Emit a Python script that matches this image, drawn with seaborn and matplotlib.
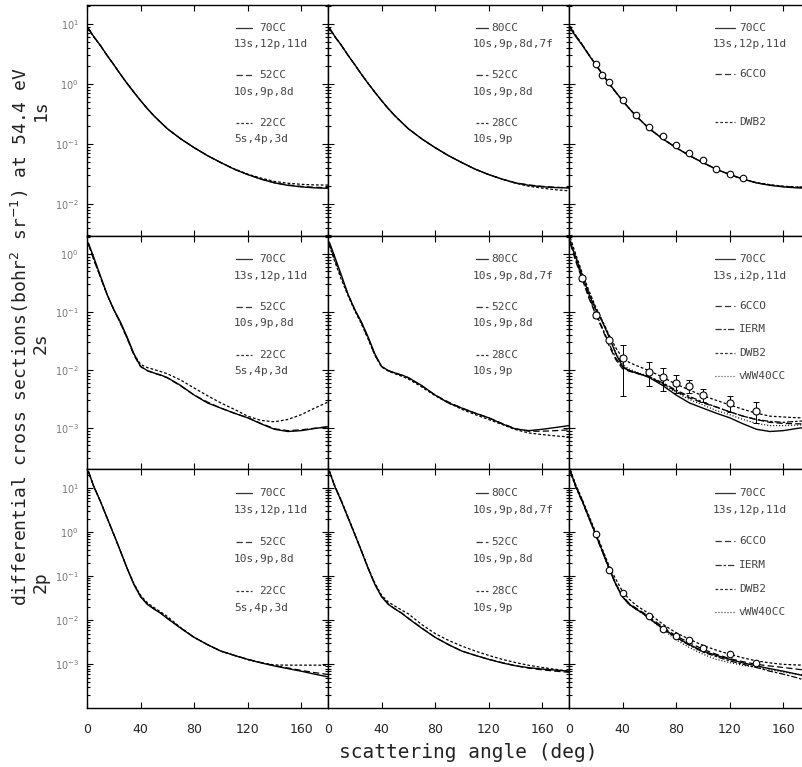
import numpy as np
import pandas as pd
import matplotlib
matplotlib.use("Agg")
import matplotlib.pyplot as plt
import seaborn as sns
from matplotlib.ticker import LogLocator, NullFormatter, FixedLocator
from matplotlib.lines import Line2D

# ---------------- data ----------------
ANG = [1, 5, 10, 15, 20, 25, 30, 35, 40, 45, 50, 55, 60, 70, 80, 90, 100,
       110, 120, 130, 140, 150, 160, 170, 180]

# 1s
S1_70CC = [8.5, 6.2, 4.4, 3.0, 2.1, 1.45, 1.02, 0.73, 0.53, 0.39, 0.295, 0.23, 0.18, 0.122,
           0.087, 0.064, 0.049, 0.038, 0.031, 0.026, 0.0225, 0.0205, 0.0193, 0.0186, 0.0183]
S1_52CC = [8.4, 6.15, 4.38, 3.0, 2.1, 1.45, 1.02, 0.73, 0.53, 0.39, 0.295, 0.23, 0.18, 0.122,
           0.087, 0.064, 0.049, 0.038, 0.031, 0.026, 0.0226, 0.0208, 0.0197, 0.0190, 0.0187]
S1_22CC = [8.3, 6.1, 4.35, 2.98, 2.1, 1.45, 1.02, 0.73, 0.53, 0.39, 0.295, 0.23, 0.18, 0.122,
           0.087, 0.064, 0.049, 0.0385, 0.0315, 0.027, 0.0238, 0.0222, 0.0213, 0.0208, 0.0207]
S1_80CC = [8.6, 6.25, 4.42, 3.0, 2.1, 1.45, 1.02, 0.73, 0.53, 0.39, 0.295, 0.23, 0.18, 0.122,
           0.087, 0.064, 0.049, 0.038, 0.031, 0.026, 0.0225, 0.0205, 0.0194, 0.0188, 0.0185]
S1_28CC = [8.7, 6.3, 4.45, 3.02, 2.1, 1.45, 1.02, 0.73, 0.53, 0.39, 0.295, 0.23, 0.18, 0.122,
           0.087, 0.064, 0.049, 0.038, 0.031, 0.026, 0.0222, 0.0198, 0.0184, 0.0173, 0.0166]
S1_6CCO = [8.8, 6.4, 4.5, 3.05, 2.12, 1.46, 1.03, 0.73, 0.53, 0.39, 0.295, 0.23, 0.18, 0.122,
           0.087, 0.064, 0.049, 0.038, 0.031, 0.026, 0.0226, 0.0207, 0.0196, 0.0191, 0.0190]
S1_DWB2 = [9.2, 6.5, 4.5, 3.05, 2.1, 1.44, 1.01, 0.72, 0.525, 0.39, 0.295, 0.23, 0.18, 0.122,
           0.087, 0.064, 0.049, 0.038, 0.031, 0.026, 0.0228, 0.0210, 0.0198, 0.0192, 0.0190]
EXP1_ANG = [20, 25, 30, 40, 50, 60, 70, 80, 90, 100, 110, 120, 130]
EXP1_VAL = [2.15, 1.41, 1.1, 0.54, 0.30, 0.195, 0.138, 0.096, 0.070, 0.054, 0.039, 0.032, 0.027]

# 2s
S2_70CC = [1.55, 0.88, 0.42, 0.2, 0.11, 0.067, 0.037, 0.019, 0.0115, 0.0098, 0.0089, 0.0082, 0.0074,
           0.0054, 0.0037, 0.0027, 0.0022, 0.0018, 0.0015, 0.00118, 0.00095, 0.00087, 0.00090,
           0.00098, 0.00105]
S2_52CC = [1.5, 0.8, 0.40, 0.2, 0.11, 0.064, 0.035, 0.018, 0.0115, 0.0097, 0.0088, 0.0081, 0.0073,
           0.0053, 0.0037, 0.0028, 0.0022, 0.0018, 0.0015, 0.0012, 0.00097, 0.0009, 0.00093,
           0.00099, 0.00105]
S2_22CC = [1.5, 0.82, 0.40, 0.2, 0.11, 0.064, 0.035, 0.019, 0.0125, 0.011, 0.0102, 0.0094, 0.0086,
           0.0067, 0.0049, 0.0036, 0.0027, 0.0021, 0.0016, 0.00135, 0.00128, 0.0014, 0.0017,
           0.0022, 0.0028]
S2_80CC = [1.6, 0.9, 0.43, 0.2, 0.11, 0.067, 0.037, 0.019, 0.0115, 0.0098, 0.0089, 0.0082, 0.0074,
           0.0054, 0.0037, 0.0027, 0.0022, 0.0018, 0.0015, 0.00118, 0.00096, 0.0009, 0.00095,
           0.00102, 0.0011]
S2_52CCb = [1.5, 0.8, 0.40, 0.2, 0.11, 0.064, 0.035, 0.018, 0.0115, 0.0097, 0.0088, 0.0081, 0.0073,
            0.0053, 0.0037, 0.0028, 0.0022, 0.0018, 0.0015, 0.0012, 0.00097, 0.00088, 0.00088,
            0.0009, 0.00093]
S2_28CC = [1.4, 0.75, 0.36, 0.19, 0.105, 0.062, 0.034, 0.018, 0.0113, 0.0096, 0.0086, 0.0078, 0.0070,
           0.0051, 0.0036, 0.0027, 0.0021, 0.0017, 0.0014, 0.00115, 0.00094, 0.00082, 0.00077,
           0.00073, 0.0007]
S2_6CCO = [1.5, 0.75, 0.36, 0.17, 0.09, 0.05, 0.026, 0.015, 0.0105, 0.0095, 0.0088, 0.0082, 0.0076,
           0.0058, 0.0043, 0.0033, 0.0027, 0.0023, 0.0019, 0.0016, 0.0014, 0.00125, 0.0012,
           0.00118, 0.00118]
S2_IERM = [1.7, 0.8, 0.38, 0.18, 0.095, 0.053, 0.028, 0.016, 0.011, 0.0098, 0.009, 0.0083, 0.0077,
           0.006, 0.0045, 0.0035, 0.0028, 0.0023, 0.0019, 0.0016, 0.0014, 0.0013, 0.00125,
           0.0013, 0.00135]
S2_DWB2 = [1.9, 1.0, 0.46, 0.23, 0.12, 0.07, 0.040, 0.024, 0.016, 0.0135, 0.012, 0.0108, 0.0097,
           0.0075, 0.0057, 0.0045, 0.0036, 0.003, 0.0025, 0.0021, 0.0018, 0.0016, 0.00155,
           0.0015, 0.0015]
S2_VWW = [1.6, 0.9, 0.44, 0.22, 0.12, 0.07, 0.038, 0.02, 0.0125, 0.0104, 0.0093, 0.0085, 0.0077,
          0.0057, 0.0041, 0.0031, 0.0025, 0.002, 0.0017, 0.0014, 0.0012, 0.0011, 0.0011,
          0.00112, 0.00115]
EXP2_ANG = [10, 20, 30, 40, 60, 70, 80, 90, 100, 120, 140]
EXP2_VAL = [0.38, 0.089, 0.033, 0.016, 0.0094, 0.0075, 0.0059, 0.0052, 0.0037, 0.0027, 0.0020]
EXP2_LO = [0.34, 0.080, 0.030, 0.0035, 0.0052, 0.0043, 0.0040, 0.0040, 0.0028, 0.0019, 0.0012]
EXP2_HI = [0.42, 0.098, 0.036, 0.027, 0.0139, 0.0107, 0.0082, 0.0066, 0.0047, 0.0035, 0.0028]

# 2p
S3_70CC = [24, 11, 5.0, 2.1, 0.89, 0.37, 0.15, 0.065, 0.034, 0.023, 0.018, 0.0145, 0.011, 0.0066,
           0.0041, 0.0028, 0.0020, 0.0016, 0.0013, 0.00108, 0.00092, 0.0008, 0.0007, 0.0006, 0.00052]
S3_52CC = [24, 11, 5.0, 2.1, 0.89, 0.37, 0.15, 0.066, 0.035, 0.0235, 0.0182, 0.0146, 0.0112, 0.0067,
           0.0041, 0.0028, 0.0020, 0.0016, 0.0013, 0.0011, 0.00094, 0.00083, 0.00073, 0.00065, 0.00059]
S3_22CC = [24, 11, 5.0, 2.1, 0.89, 0.37, 0.15, 0.068, 0.037, 0.025, 0.0195, 0.0155, 0.0122, 0.0068,
           0.0041, 0.0028, 0.002, 0.0016, 0.00128, 0.00108, 0.00097, 0.00096, 0.00096, 0.00096, 0.00095]
S3_80CC = [24, 11, 5.0, 2.1, 0.89, 0.37, 0.15, 0.065, 0.034, 0.023, 0.018, 0.0145, 0.011, 0.0066,
           0.0041, 0.0028, 0.0020, 0.0016, 0.0013, 0.00108, 0.00093, 0.00084, 0.00078, 0.00074, 0.0007]
S3_52CCb = [24, 11, 5.0, 2.1, 0.89, 0.37, 0.15, 0.066, 0.035, 0.0235, 0.0182, 0.0146, 0.0112, 0.0067,
            0.0041, 0.0028, 0.0020, 0.0016, 0.0013, 0.0011, 0.00093, 0.00082, 0.00075, 0.0007, 0.00066]
S3_28CC = [25, 11.5, 5.2, 2.2, 0.92, 0.38, 0.155, 0.07, 0.037, 0.026, 0.021, 0.017, 0.014, 0.0080,
           0.0050, 0.0035, 0.0026, 0.002, 0.0016, 0.0013, 0.0011, 0.00095, 0.00085, 0.00077, 0.0007]
S3_6CCO = [25, 11.5, 5.1, 2.1, 0.88, 0.36, 0.15, 0.067, 0.036, 0.024, 0.019, 0.0152, 0.0118, 0.0071,
           0.0044, 0.0031, 0.0022, 0.0017, 0.00135, 0.00115, 0.001, 0.00092, 0.00085, 0.00078, 0.00072]
S3_IERM = [23, 10.5, 4.8, 2.0, 0.85, 0.35, 0.145, 0.064, 0.034, 0.023, 0.018, 0.0145, 0.011, 0.0065,
           0.0040, 0.0027, 0.0019, 0.0015, 0.0012, 0.001, 0.00085, 0.0007, 0.0006, 0.0005, 0.0004]
S3_DWB2 = [26, 12, 5.4, 2.3, 0.98, 0.41, 0.17, 0.085, 0.045, 0.03, 0.022, 0.0175, 0.014, 0.0082,
           0.0052, 0.0037, 0.0027, 0.0021, 0.0017, 0.0014, 0.0012, 0.00108, 0.001, 0.00097, 0.00095]
S3_VWW = [24, 11, 5.0, 2.1, 0.89, 0.37, 0.15, 0.066, 0.034, 0.023, 0.0178, 0.0142, 0.0108, 0.0062,
          0.0036, 0.0024, 0.0017, 0.0013, 0.0011, 0.00095, 0.00085, 0.00075, 0.00067, 0.0006, 0.00055]
EXP3_ANG = [20, 30, 40, 60, 70, 80, 90, 100, 120, 140]
EXP3_VAL = [0.93, 0.14, 0.042, 0.0123, 0.0064, 0.0044, 0.0035, 0.0023, 0.0017, 0.00105]

ROW_NAMES = ["1s", "2s", "2p"]
XTICKS = [0, 40, 80, 120, 160]
YLIMS = [(10 ** -2.533, 10 ** 1.317), (10 ** -3.707, 10 ** 0.31), (10 ** -3.99, 10 ** 1.432)]

STY = {
    "solid": "-",
    "dash": (0, (5, 2.5)),
    "short": (0, (2.2, 1.6)),
    "dashdot": (0, (5, 1.5, 2.0, 1.5)),
    "dot": (0, (0.8, 1.6)),
}

PANELS = [
    [  # row 1s
        [(S1_70CC, "solid", "70CC", "13s,12p,11d"), (S1_52CC, "dash", "52CC", "10s,9p,8d"),
         (S1_22CC, "short", "22CC", "5s,4p,3d")],
        [(S1_80CC, "solid", "80CC", "10s,9p,8d,7f"), (S1_52CC, "dash", "52CC", "10s,9p,8d"),
         (S1_28CC, "short", "28CC", "10s,9p")],
        [(S1_70CC, "solid", "70CC", "13s,12p,11d"), (S1_6CCO, "dash", "6CCO", None),
         (S1_DWB2, "short", "DWB2", None)],
    ],
    [  # row 2s
        [(S2_70CC, "solid", "70CC", "13s,12p,11d"), (S2_52CC, "dash", "52CC", "10s,9p,8d"),
         (S2_22CC, "short", "22CC", "5s,4p,3d")],
        [(S2_80CC, "solid", "80CC", "10s,9p,8d,7f"), (S2_52CCb, "dash", "52CC", "10s,9p,8d"),
         (S2_28CC, "short", "28CC", "10s,9p")],
        [(S2_70CC, "solid", "70CC", "13s,i2p,11d"), (S2_6CCO, "dash", "6CCO", None),
         (S2_IERM, "dashdot", "IERM", None), (S2_DWB2, "short", "DWB2", None),
         (S2_VWW, "dot", "vWW40CC", None)],
    ],
    [  # row 2p
        [(S3_70CC, "solid", "70CC", "13s,12p,11d"), (S3_52CC, "dash", "52CC", "10s,9p,8d"),
         (S3_22CC, "short", "22CC", "5s,4p,3d")],
        [(S3_80CC, "solid", "80CC", "10s,9p,8d,7f"), (S3_52CCb, "dash", "52CC", "10s,9p,8d"),
         (S3_28CC, "short", "28CC", "10s,9p")],
        [(S3_70CC, "solid", "70CC", "13s,12p,11d"), (S3_6CCO, "dash", "6CCO", None),
         (S3_IERM, "dashdot", "IERM", None), (S3_DWB2, "short", "DWB2", None),
         (S3_VWW, "dot", "vWW40CC", None)],
    ],
]

# ---------------- figure ----------------
sns.set_theme(style="ticks")
plt.rcParams["font.family"] = ["DejaVu Sans"]
plt.rcParams["axes.linewidth"] = 1.0

W, H = 803, 767
fig = plt.figure(figsize=(W / 100, H / 100), dpi=100)
fig.patch.set_facecolor("white")

col_x = [87, 328, 569, 810]
row_y = [5, 236, 469, 708]

MONO = "DejaVu Sans Mono"
LEG_COLOR = "#444444"

LEG_X = [  # line start, line end, name x, basis x
    (0.620, 0.685, 0.715, 0.610),
    (0.615, 0.662, 0.676, 0.600),
    (0.606, 0.690, 0.705, 0.595),
]

for r in range(3):
    for c in range(3):
        left = col_x[c] / W
        width = (col_x[c + 1] - col_x[c]) / W
        bottom = 1 - row_y[r + 1] / H
        height = (row_y[r + 1] - row_y[r]) / H
        ax = fig.add_axes([left, bottom, width, height])
        ax.set_facecolor("white")
        ax.set_yscale("log")
        for vals, sty, name, basis in PANELS[r][c]:
            df = pd.DataFrame({"angle": ANG, "dcs": vals})
            sns.lineplot(data=df, x="angle", y="dcs", ax=ax, color="black",
                         lw=1.0 if sty == "solid" else 0.9, sort=True)
            ax.lines[-1].set_linestyle(STY[sty])
        if c == 2:
            if r == 0:
                sns.scatterplot(x=EXP1_ANG, y=EXP1_VAL, ax=ax, marker="o", s=22,
                                facecolor="white", edgecolor="black", linewidth=0.8, zorder=5)
            elif r == 1:
                ev = np.array(EXP2_VAL)
                yerr = [ev - np.array(EXP2_LO), np.array(EXP2_HI) - ev]
                ax.errorbar(EXP2_ANG, ev, yerr=yerr, fmt="none", ecolor="black",
                            elinewidth=0.7, capsize=2, capthick=0.7, zorder=4)
                sns.scatterplot(x=EXP2_ANG, y=EXP2_VAL, ax=ax, marker="o", s=26,
                                facecolor="white", edgecolor="black", linewidth=0.8, zorder=5)
            else:
                sns.scatterplot(x=EXP3_ANG, y=EXP3_VAL, ax=ax, marker="o", s=22,
                                facecolor="white", edgecolor="black", linewidth=0.8, zorder=5)

        ax.set_xlim(0, 180)
        ax.set_ylim(*YLIMS[r])
        ax.set_xlabel("")
        ax.set_ylabel("")
        ax.xaxis.set_major_locator(FixedLocator(XTICKS))
        ax.yaxis.set_major_locator(LogLocator(base=10, numticks=20))
        ax.yaxis.set_minor_locator(LogLocator(base=10, subs=np.arange(2, 10), numticks=20))
        ax.yaxis.set_minor_formatter(NullFormatter())
        ax.tick_params(which="both", direction="in", top=True, right=True,
                       color="black", width=0.8)
        ax.tick_params(which="major", length=4)
        ax.tick_params(which="minor", length=2)
        ax.tick_params(axis="y", labelsize=7, labelcolor="#777777", pad=6)
        ax.tick_params(axis="x", labelsize=9, labelcolor="#222222", pad=11)
        if c != 0:
            ax.tick_params(axis="y", labelleft=False)
        if r != 2:
            ax.tick_params(axis="x", labelbottom=False)
        for sp in ax.spines.values():
            sp.set_visible(True)
            sp.set_color("black")
            sp.set_linewidth(1.0)

        # legend block
        lx0, lx1, nx, bx = LEG_X[c]
        entries = PANELS[r][c]
        if len(entries) == 3 and c != 2:
            name_y = [0.10, 0.305, 0.51]
        elif len(entries) == 3:
            name_y = [0.10, 0.30, 0.505]
        else:
            name_y = [0.10, 0.30, 0.40, 0.50, 0.60]
        for (vals, sty, name, basis), yy in zip(entries, name_y):
            ln = Line2D([lx0, lx1], [1 - yy, 1 - yy], transform=ax.transAxes,
                        color="#333333", lw=0.9, linestyle=STY[sty])
            ax.add_line(ln)
            ax.text(nx, 1 - yy, name, transform=ax.transAxes, fontsize=8,
                    family=MONO, color=LEG_COLOR, va="center", ha="left", clip_on=True)
            if basis:
                ax.text(bx, 1 - yy - 0.07, basis, transform=ax.transAxes, fontsize=8,
                        family=MONO, color=LEG_COLOR, va="center", ha="left", clip_on=True)

fig.text(20 / W, 1 - 337 / H, "differential cross sections(bohr$^2$ sr$^{-1}$) at 54.4 eV",
         rotation=90, ha="center", va="center", fontsize=13, family=MONO, color="#222222")
for name, yc in zip(ROW_NAMES, [110, 343, 582]):
    fig.text(41 / W, 1 - yc / H, name, rotation=90, ha="center", va="center",
             fontsize=13, family=MONO, color="#222222")
fig.text(468 / W, 1 - 753 / H, "scattering angle (deg)", ha="center", va="center",
         fontsize=14, family=MONO, color="#222222")

fig.savefig("out.png", dpi=100, facecolor="white")
